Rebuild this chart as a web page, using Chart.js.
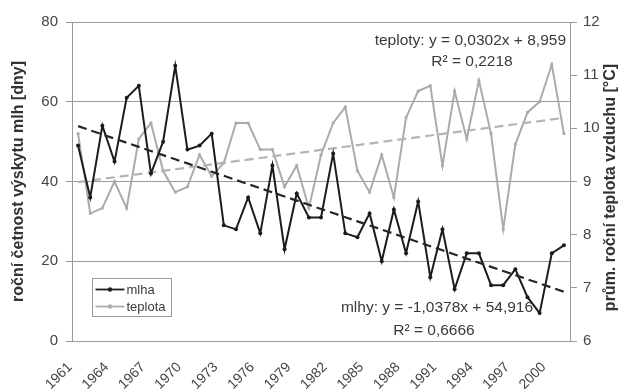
<!DOCTYPE html>
<html>
<head>
<meta charset="utf-8">
<script src="https://cdn.jsdelivr.net/npm/chart.js@4.4.1/dist/chart.umd.min.js"></script>
<style>
  body { margin: 0; background: #fff; }
  #wrap { width: 622px; height: 391px; }
</style>
</head>
<body>
<div id="wrap"><canvas id="fogChart" width="622" height="391"></canvas></div>
<script>
const years = [1961, 1962, 1963, 1964, 1965, 1966, 1967, 1968, 1969, 1970,
               1971, 1972, 1973, 1974, 1975, 1976, 1977, 1978, 1979, 1980,
               1981, 1982, 1983, 1984, 1985, 1986, 1987, 1988, 1989, 1990,
               1991, 1992, 1993, 1994, 1995, 1996, 1997, 1998, 1999, 2000, 2001];

// days with fog per year
const mlha = [49, 36, 54, 45, 61, 64, 42, 50, 69, 48,
              49, 52, 29, 28, 36, 27, 44, 23, 37, 31,
              31, 47, 27, 26, 32, 20, 33, 22, 35, 16,
              28, 13, 22, 22, 14, 14, 18, 11, 7, 22, 24];

// mean annual air temperature
const teplota = [9.9, 8.4, 8.5, 9.0, 8.5, 9.8, 10.1, 9.2, 8.8, 8.9,
                 9.5, 9.1, 9.35, 10.1, 10.1, 9.6, 9.6, 8.9, 9.3, 8.5,
                 9.5, 10.1, 10.4, 9.2, 8.8, 9.5, 8.7, 10.2, 10.7, 10.8,
                 9.3, 10.7, 9.8, 10.9, 9.9, 8.1, 9.7, 10.3, 10.5, 11.2, 9.9];

const shownYears = [1961, 1964, 1967, 1970, 1973, 1976, 1979, 1982, 1985, 1988, 1991, 1994, 1997, 2000];
const leftTicks = [0, 20, 40, 60, 80];
const rightTicks = [6, 7, 8, 9, 10, 11, 12];

// linear trends (slope, intercept), x = 1..n
const mlhyFit = [-1.0378, 54.916];
const teplotyFit = [0.0302, 8.959];
const mlhyText = ["mlhy: y = -1,0378x + 54,916", "R² = 0,6666"];
const teplotyText = ["teploty: y = 0,0302x + 8,959", "R² = 0,2218"];
const rightTitle = "prům. roční teplota vzduchu [°C]";

const FONT = "'Liberation Sans', Arial, sans-serif";
const BLACK = "#1c1c1c";
const GREY = "#ababab";

const trend = fit => years.map((_, i) => fit[0] * (i + 1) + fit[1]);

const frame = {
  id: "frame",
  beforeDatasetsDraw(chart) {
    const { ctx, chartArea: a } = chart;
    ctx.save();
    ctx.strokeStyle = "#9a9a9a";
    ctx.lineWidth = 1;
    ctx.strokeRect(Math.round(a.left) + 0.5, Math.round(a.top) + 0.5,
                   Math.round(a.width), Math.round(a.height));
    ctx.restore();
  },
  afterDraw(chart) {
    const { ctx, chartArea: a } = chart;
    ctx.save();

    // right axis title, reading bottom to top like the left one
    ctx.fillStyle = "#333";
    ctx.font = "bold 16px " + FONT;
    ctx.textAlign = "center";
    ctx.textBaseline = "middle";
    ctx.save();
    ctx.translate(611, (a.top + a.bottom) / 2 + 6);
    ctx.rotate(-Math.PI / 2);
    ctx.fillText(rightTitle, 0, 0);
    ctx.restore();

    // regression labels
    ctx.fillStyle = "#3a3a3a";
    ctx.font = "15.5px " + FONT;
    ctx.textAlign = "right";
    ctx.fillText(teplotyText[0], a.right - 4, a.top + 19);
    ctx.textAlign = "center";
    ctx.fillText(teplotyText[1], a.right - 98, a.top + 40);
    ctx.fillText(mlhyText[0], a.left + 365, a.bottom - 33);
    ctx.fillText(mlhyText[1], a.left + 362, a.bottom - 10);

    // legend box
    ctx.font = "13px " + FONT;
    const lx = a.left + 20.5, ly = a.bottom - 62.5;
    ctx.fillStyle = "#fff";
    ctx.fillRect(lx, ly, 79, 38);
    ctx.strokeStyle = "#9a9a9a";
    ctx.lineWidth = 1;
    ctx.strokeRect(lx, ly, 79, 38);
    const rows = [["mlha", BLACK], ["teplota", GREY]];
    rows.forEach(([name, col], i) => {
      const y = ly + 11 + i * 17;
      ctx.strokeStyle = col;
      ctx.lineWidth = 1.8;
      ctx.beginPath();
      ctx.moveTo(lx + 3, y);
      ctx.lineTo(lx + 32, y);
      ctx.stroke();
      ctx.fillStyle = col;
      ctx.beginPath();
      ctx.arc(lx + 17.5, y, 2.2, 0, Math.PI * 2);
      ctx.fill();
      ctx.fillStyle = "#3a3a3a";
      ctx.textAlign = "left";
      ctx.fillText(name, lx + 34, y + 1);
    });
    ctx.restore();
  }
};

new Chart(document.getElementById("fogChart"), {
  type: "line",
  data: {
    labels: years,
    datasets: [
      {
        label: "trend mlhy",
        data: trend(mlhyFit),
        yAxisID: "y",
        borderColor: "#262626",
        borderWidth: 2.2,
        borderDash: [9, 5],
        pointRadius: 0
      },
      {
        label: "mlha",
        data: mlha,
        yAxisID: "y",
        borderColor: BLACK,
        backgroundColor: BLACK,
        borderWidth: 2,
        pointRadius: 2,
        pointBorderWidth: 0,
        tension: 0
      },
      {
        label: "trend teploty",
        data: trend(teplotyFit),
        yAxisID: "y2",
        borderColor: "#b4b4b4",
        borderWidth: 2.2,
        borderDash: [9, 5],
        pointRadius: 0
      },
      {
        label: "teplota",
        data: teplota,
        yAxisID: "y2",
        borderColor: GREY,
        backgroundColor: GREY,
        borderWidth: 2,
        pointRadius: 2,
        pointStyle: "rect",
        pointBorderWidth: 0,
        tension: 0
      }
    ]
  },
  options: {
    responsive: false,
    animation: false,
    layout: { padding: { top: 22, left: 0, right: 0, bottom: 0 } },
    plugins: { legend: { display: false }, tooltip: { enabled: false } },
    scales: {
      x: {
        type: "category",
        offset: true,
        grid: { display: false },
        border: { display: false },
        ticks: {
          autoSkip: false,
          maxRotation: 45,
          minRotation: 45,
          padding: 10,
          labelOffset: -8,
          color: "#444",
          font: { family: FONT, size: 14 },
          callback: function (v, i) {
            const yr = years[i];
            return shownYears.includes(yr) ? String(yr) : "";
          }
        },
        afterFit: s => { s.height = 50; }
      },
      y: {
        position: "left",
        min: 0,
        max: 80,
        afterBuildTicks: s => { s.ticks = leftTicks.map(v => ({ value: v })); },
        grid: { color: "#9a9a9a", lineWidth: 1, tickLength: 6 },
        border: { display: false },
        ticks: {
          padding: 8,
          color: "#444",
          font: { family: FONT, size: 15 }
        },
        title: {
          display: true,
          text: "roční četnost výskytu mlh [dny]",
          color: "#333",
          font: { family: FONT, size: 16, weight: "bold" },
          padding: { top: 9, bottom: 0 }
        },
        afterFit: s => { s.width = 72; }
      },
      y2: {
        position: "right",
        min: 6,
        max: 12,
        afterBuildTicks: s => { s.ticks = rightTicks.map(v => ({ value: v })); },
        grid: { drawOnChartArea: false, color: "#9a9a9a", tickLength: 7 },
        border: { display: false },
        ticks: {
          padding: 6,
          color: "#444",
          font: { family: FONT, size: 15 }
        },
        afterFit: s => { s.width = 52; }
      }
    }
  },
  plugins: [frame]
});
</script>
</body>
</html>
